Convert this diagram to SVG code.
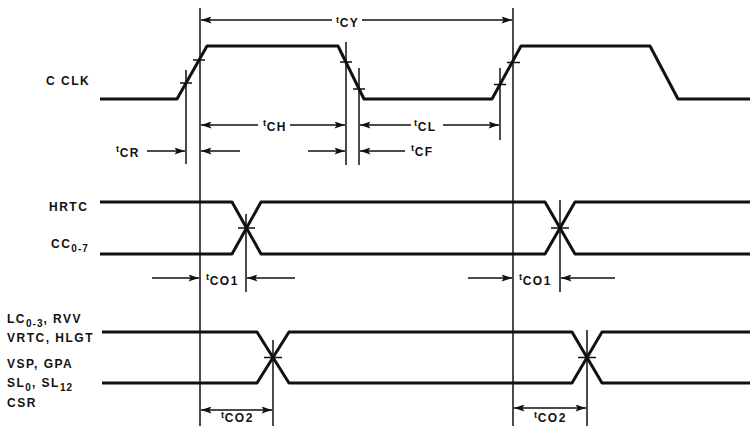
<svg xmlns="http://www.w3.org/2000/svg" width="750" height="426" viewBox="0 0 750 426">
<defs>
<marker id="ah" viewBox="0 0 12 8" refX="12" refY="4" markerWidth="12" markerHeight="7" markerUnits="userSpaceOnUse" orient="auto-start-reverse">
<path d="M0,0 L12,4 L0,8 L2.5,4 Z" fill="#111"/>
</marker>
<style>
.wave{fill:none;stroke:#111;stroke-width:3;stroke-linejoin:round;stroke-linecap:butt}
.ref{fill:none;stroke:#111;stroke-width:1.5}
.tick{fill:none;stroke:#111;stroke-width:1.6}
.dim{fill:none;stroke:#111;stroke-width:1.3}
.arr{marker-end:url(#ah)}
.both{marker-start:url(#ah);marker-end:url(#ah)}
text{font-family:'Liberation Sans',Arial,Helvetica,sans-serif;font-weight:bold;font-size:12px;letter-spacing:1.5px;fill:#111}
.sm{font-size:9.5px;letter-spacing:0.5px}
.sub{font-size:10px;letter-spacing:1px}
</style>
</defs>
<rect width="750" height="426" fill="#fff"/>

<g id="labels">
<text x="46" y="84.5">C CLK</text>
<text x="49" y="211">HRTC</text>
<text x="51" y="248">CC<tspan class="sub" dy="4">0-7</tspan></text>
<text x="7" y="323">LC<tspan class="sub" dy="3.5">0-3</tspan><tspan dy="-3.5">, RVV</tspan></text>
<text x="7" y="342">VRTC, HLGT</text>
<text x="7" y="368">VSP, GPA</text>
<text x="7" y="387">SL<tspan class="sub" dy="3.5">0</tspan><tspan dy="-3.5">, SL</tspan><tspan class="sub" dy="3.5">12</tspan></text>
<text x="7" y="407">CSR</text>
</g>

<g id="cclk">
<path class="wave" d="M100,99 L177,99 L207,46 L338,46 L364,99 L492,99 L521,46 L650,46 L678,99 L750,99"/>
<path class="tick" d="M180,83 H192 M193,60 H205 M340,62 H352 M353,89 H365 M494,84.5 H506 M507,62.5 H520"/>
</g>

<g id="hrtc">
<path class="wave" d="M100,202 L232,202 L261,254 L545,254 L575,202 L750,202"/>
<path class="wave" d="M100,254 L232,254 L261,202 L545,202 L575,254 L750,254"/>
<path class="tick" d="M238,228 H255 M551,228 H569"/>
</g>

<g id="lc">
<path class="wave" d="M102,332 L257,332 L289,383 L572,383 L602,332 L750,332"/>
<path class="wave" d="M102,383 L257,383 L289,332 L572,332 L602,383 L750,383"/>
<path class="tick" d="M264,357.5 H282 M578,357.5 H596"/>
</g>

<g id="connectors">
<path class="ref" d="M186,70 V164 M200,8 V426 M346,42 V165 M359,68 V165 M500,68 V140 M513,8 V426 M246,214 V292 M560,200 V292 M273,340 V426 M587,330 V426"/>
<path class="dim arr" d="M332,20 H201"/>
<path class="dim arr" d="M362,20 H512"/>
<path class="dim arr" d="M258,125 H201"/>
<path class="dim arr" d="M290,125 H345"/>
<path class="dim arr" d="M411,125 H360"/>
<path class="dim arr" d="M443,125 H499"/>
<path class="dim arr" d="M147,151 H185"/>
<path class="dim arr" d="M240,151 H201"/>
<path class="dim arr" d="M308,151 H345"/>
<path class="dim arr" d="M405,151 H360"/>
<path class="dim arr" d="M152,278 H199"/>
<path class="dim arr" d="M295,278 H247"/>
<path class="dim arr" d="M468,278 H512"/>
<path class="dim arr" d="M615,278 H561"/>
<path class="dim both" d="M201,410 H272"/>
<path class="dim both" d="M514,408 H586"/>
</g>

<g id="timing-labels">
<text><tspan class="sm" x="336" y="23">t</tspan><tspan y="27">CY</tspan></text>
<text><tspan class="sm" x="263" y="126">t</tspan><tspan y="131">CH</tspan></text>
<text><tspan class="sm" x="414" y="126">t</tspan><tspan y="131">CL</tspan></text>
<text><tspan class="sm" x="116" y="152">t</tspan><tspan y="157">CR</tspan></text>
<text><tspan class="sm" x="411" y="151">t</tspan><tspan y="156">CF</tspan></text>
<text><tspan class="sm" x="206" y="280">t</tspan><tspan y="285">CO1</tspan></text>
<text><tspan class="sm" x="519" y="280">t</tspan><tspan y="285">CO1</tspan></text>
<text><tspan class="sm" x="221" y="418">t</tspan><tspan y="422">CO2</tspan></text>
<text><tspan class="sm" x="534" y="418">t</tspan><tspan y="422">CO2</tspan></text>
</g>
</svg>
